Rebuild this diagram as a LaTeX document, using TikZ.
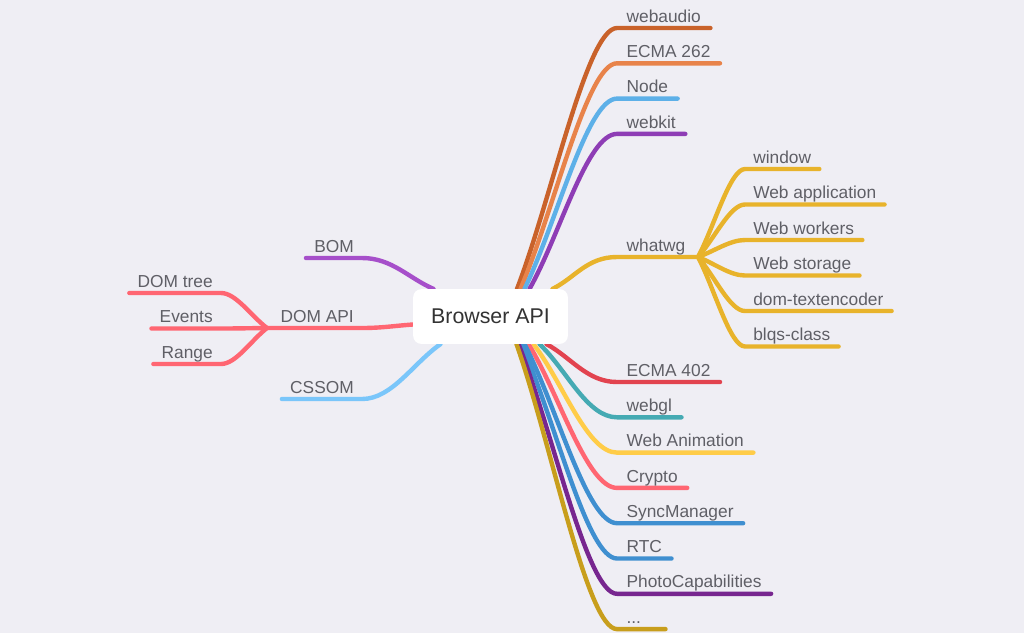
\documentclass[tikz,border=0pt]{standalone}
\usepackage{fontspec}
\setmainfont{Liberation Sans}
\usetikzlibrary{calc}
\pgfdeclarelayer{bg}
\pgfdeclarelayer{edges}
\pgfsetlayers{bg,edges,main}

% colours
\definecolor{paper}{RGB}{239,238,244}
\definecolor{labelgray}{RGB}{95,95,102}
\definecolor{rootgray}{RGB}{51,51,51}
\definecolor{cWebaudio}{RGB}{201,98,42}
\definecolor{cEcmaA}{RGB}{232,131,74}
\definecolor{cNode}{RGB}{93,176,232}
\definecolor{cWebkit}{RGB}{142,61,181}
\definecolor{cWhatwg}{RGB}{232,179,43}
\definecolor{cEcmaB}{RGB}{226,67,79}
\definecolor{cWebgl}{RGB}{69,170,179}
\definecolor{cAnim}{RGB}{255,204,72}
\definecolor{cCrypto}{RGB}{255,102,114}
\definecolor{cSync}{RGB}{63,143,208}
\definecolor{cPhoto}{RGB}{119,38,143}
\definecolor{cMore}{RGB}{200,158,28}
\definecolor{cBom}{RGB}{166,79,202}
\definecolor{cDom}{RGB}{255,102,114}
\definecolor{cCssom}{RGB}{122,198,250}

\begin{document}
\begin{tikzpicture}[
		x=0.75pt, y=-0.75pt,
		% white box in the middle
		rootnode/.style={rectangle, fill=white, rounded corners=6pt, minimum width=116pt, minimum height=41pt, font=\fontsize{16}{19}\selectfont, text=rootgray},
		% label sitting on its own line
		leaf/.style={anchor=south west, inner xsep=7pt, inner ysep=4.2pt, text depth=0pt, font=\fontsize{13}{15}\selectfont, text=labelgray},
		subleaf/.style={leaf, inner xsep=6pt},
		lleaf/.style={leaf, anchor=south east, inner xsep=6pt},
		% thick coloured branch, bends flat near its label
		wire/.style={line width=3.3pt, line cap=round, line join=round},
		rbranch/.style={wire, to path={.. controls ($(\tikztostart)!0.35!(\tikztotarget)$) and +(-#1,0) .. (\tikztotarget)}},
		rbranch/.default=30,
		lbranch/.style={wire, to path={.. controls ($(\tikztostart)!0.35!(\tikztotarget)$) and +(#1,0) .. (\tikztotarget)}},
		lbranch/.default=30
	]
	\useasboundingbox (0,0) rectangle (1024,633);
	\begin{pgfonlayer}{bg}
		\fill[paper] (0,0) rectangle (1024,633);
	\end{pgfonlayer}

	%Nodes
	\node[rootnode]  (api)       at (490.5,316.5)  {Browser API};

	\node[leaf]      (webaudio)  at (617,28)    {webaudio};
	\node[leaf]      (ecma262)   at (617,63.3)  {ECMA 262};
	\node[leaf]      (nodejs)    at (617,98.6)  {Node};
	\node[leaf]      (webkit)    at (617,133.9) {webkit};
	\node[leaf]      (whatwg)    at (617,257)   {whatwg};
	\node[leaf]      (ecma402)   at (617,382)   {ECMA 402};
	\node[leaf]      (webgl)     at (617,417.3) {webgl};
	\node[leaf]      (webanim)   at (617,452.6) {Web Animation};
	\node[leaf]      (crypto)    at (617,487.9) {Crypto};
	\node[leaf]      (syncman)   at (617,523.2) {SyncManager};
	\node[leaf]      (rtc)       at (617,558.5) {RTC};
	\node[leaf]      (photocap)  at (617,593.8) {PhotoCapabilities};
	\node[leaf, text width=22pt] (more) at (617,629.1) {...};

	% whatwg children
	\coordinate      (wg-j)      at (698,257);
	\node[subleaf]   (window)    at (745,169)   {window};
	\node[subleaf]   (webapp)    at (745,204.5) {Web application};
	\node[subleaf]   (workers)   at (745,240)   {Web workers};
	\node[subleaf]   (storage)   at (745,275.5) {Web storage};
	\node[subleaf]   (textenc)   at (745,311)   {dom-textencoder};
	\node[subleaf]   (blqs)      at (745,346.5) {blqs-class};

	% left side
	\node[lleaf]     (bom)       at (362,258)   {BOM};
	\node[lleaf]     (domapi)    at (362,328)   {DOM API};
	\node[lleaf]     (cssom)     at (362,399)   {CSSOM};
	\coordinate      (dom-j)     at (267,328);
	\node[lleaf]     (domtree)   at (221,293)   {DOM tree};
	\node[lleaf]     (events)    at (221,328.5) {Events};
	\node[lleaf]     (range)     at (221,364)   {Range};

	% where the branches leave the box
	\coordinate (s-webaudio) at ($(api.north)+(26.5,0)$);
	\coordinate (s-ecma262)  at ($(api.north)+(30,0)$);
	\coordinate (s-nodejs)   at ($(api.north)+(34,0)$);
	\coordinate (s-webkit)   at ($(api.north)+(39,0)$);
	\coordinate (s-whatwg)   at ($(api.north)+(62,0)$);
	\coordinate (s-ecma402)  at ($(api.south)+(56,0)$);
	\coordinate (s-webgl)    at ($(api.south)+(49,0)$);
	\coordinate (s-webanim)  at ($(api.south)+(43,0)$);
	\coordinate (s-crypto)   at ($(api.south)+(38,0)$);
	\coordinate (s-syncman)  at ($(api.south)+(34,0)$);
	\coordinate (s-rtc)      at ($(api.south)+(31,0)$);
	\coordinate (s-photocap) at ($(api.south)+(28,0)$);
	\coordinate (s-more)     at ($(api.south)+(26,0)$);
	\coordinate (s-bom)      at ($(api.north)+(-57,0)$);
	\coordinate (s-domapi)   at ($(api.west)+(0,8)$);
	\coordinate (s-cssom)    at ($(api.south)+(-50,0)$);

	%Lines
	\begin{pgfonlayer}{edges}
		\draw[rbranch, cWebaudio] (s-webaudio) to (webaudio.south west) -- (webaudio.south east);
		\draw[rbranch, cEcmaA]    (s-ecma262)  to (ecma262.south west)  -- (ecma262.south east);
		\draw[rbranch, cNode]     (s-nodejs)   to (nodejs.south west)   -- (nodejs.south east);
		\draw[rbranch, cWebkit]   (s-webkit)   to (webkit.south west)   -- (webkit.south east);
		\draw[rbranch, cWhatwg]   (s-whatwg)   to (whatwg.south west)   -- (wg-j);
		\draw[rbranch, cEcmaB]    (s-ecma402)  to (ecma402.south west)  -- (ecma402.south east);
		\draw[rbranch, cWebgl]    (s-webgl)    to (webgl.south west)    -- (webgl.south east);
		\draw[rbranch, cAnim]     (s-webanim)  to (webanim.south west)  -- (webanim.south east);
		\draw[rbranch, cCrypto]   (s-crypto)   to (crypto.south west)   -- (crypto.south east);
		\draw[rbranch, cSync]     (s-syncman)  to (syncman.south west)  -- (syncman.south east);
		\draw[rbranch, cSync]     (s-rtc)      to (rtc.south west)      -- (rtc.south east);
		\draw[rbranch, cPhoto]    (s-photocap) to (photocap.south west) -- (photocap.south east);
		\draw[rbranch, cMore]     (s-more)     to (more.south west)     -- (more.south east);
		% whatwg fan
		\draw[rbranch=15, cWhatwg] (wg-j) to (window.south west)  -- (window.south east);
		\draw[rbranch=15, cWhatwg] (wg-j) to (webapp.south west)  -- (webapp.south east);
		\draw[rbranch=15, cWhatwg] (wg-j) to (workers.south west) -- (workers.south east);
		\draw[rbranch=15, cWhatwg] (wg-j) to (storage.south west) -- (storage.south east);
		\draw[rbranch=15, cWhatwg] (wg-j) to (textenc.south west) -- (textenc.south east);
		\draw[rbranch=15, cWhatwg] (wg-j) to (blqs.south west)    -- (blqs.south east);
		% left side
		\draw[lbranch, cBom]      (s-bom)      to (bom.south east)      -- (bom.south west);
		\draw[lbranch=20, cDom]   (s-domapi)   to (domapi.south east)   -- (dom-j);
		\draw[lbranch, cCssom]    (s-cssom)    to (cssom.south east)    -- (cssom.south west);
		\draw[lbranch=15, cDom]   (dom-j) to (domtree.south east) -- (domtree.south west);
		\draw[lbranch=15, cDom]   (dom-j) to (events.south east)  -- (events.south west);
		\draw[lbranch=15, cDom]   (dom-j) to (range.south east)   -- (range.south west);
	\end{pgfonlayer}
\end{tikzpicture}
\end{document}
